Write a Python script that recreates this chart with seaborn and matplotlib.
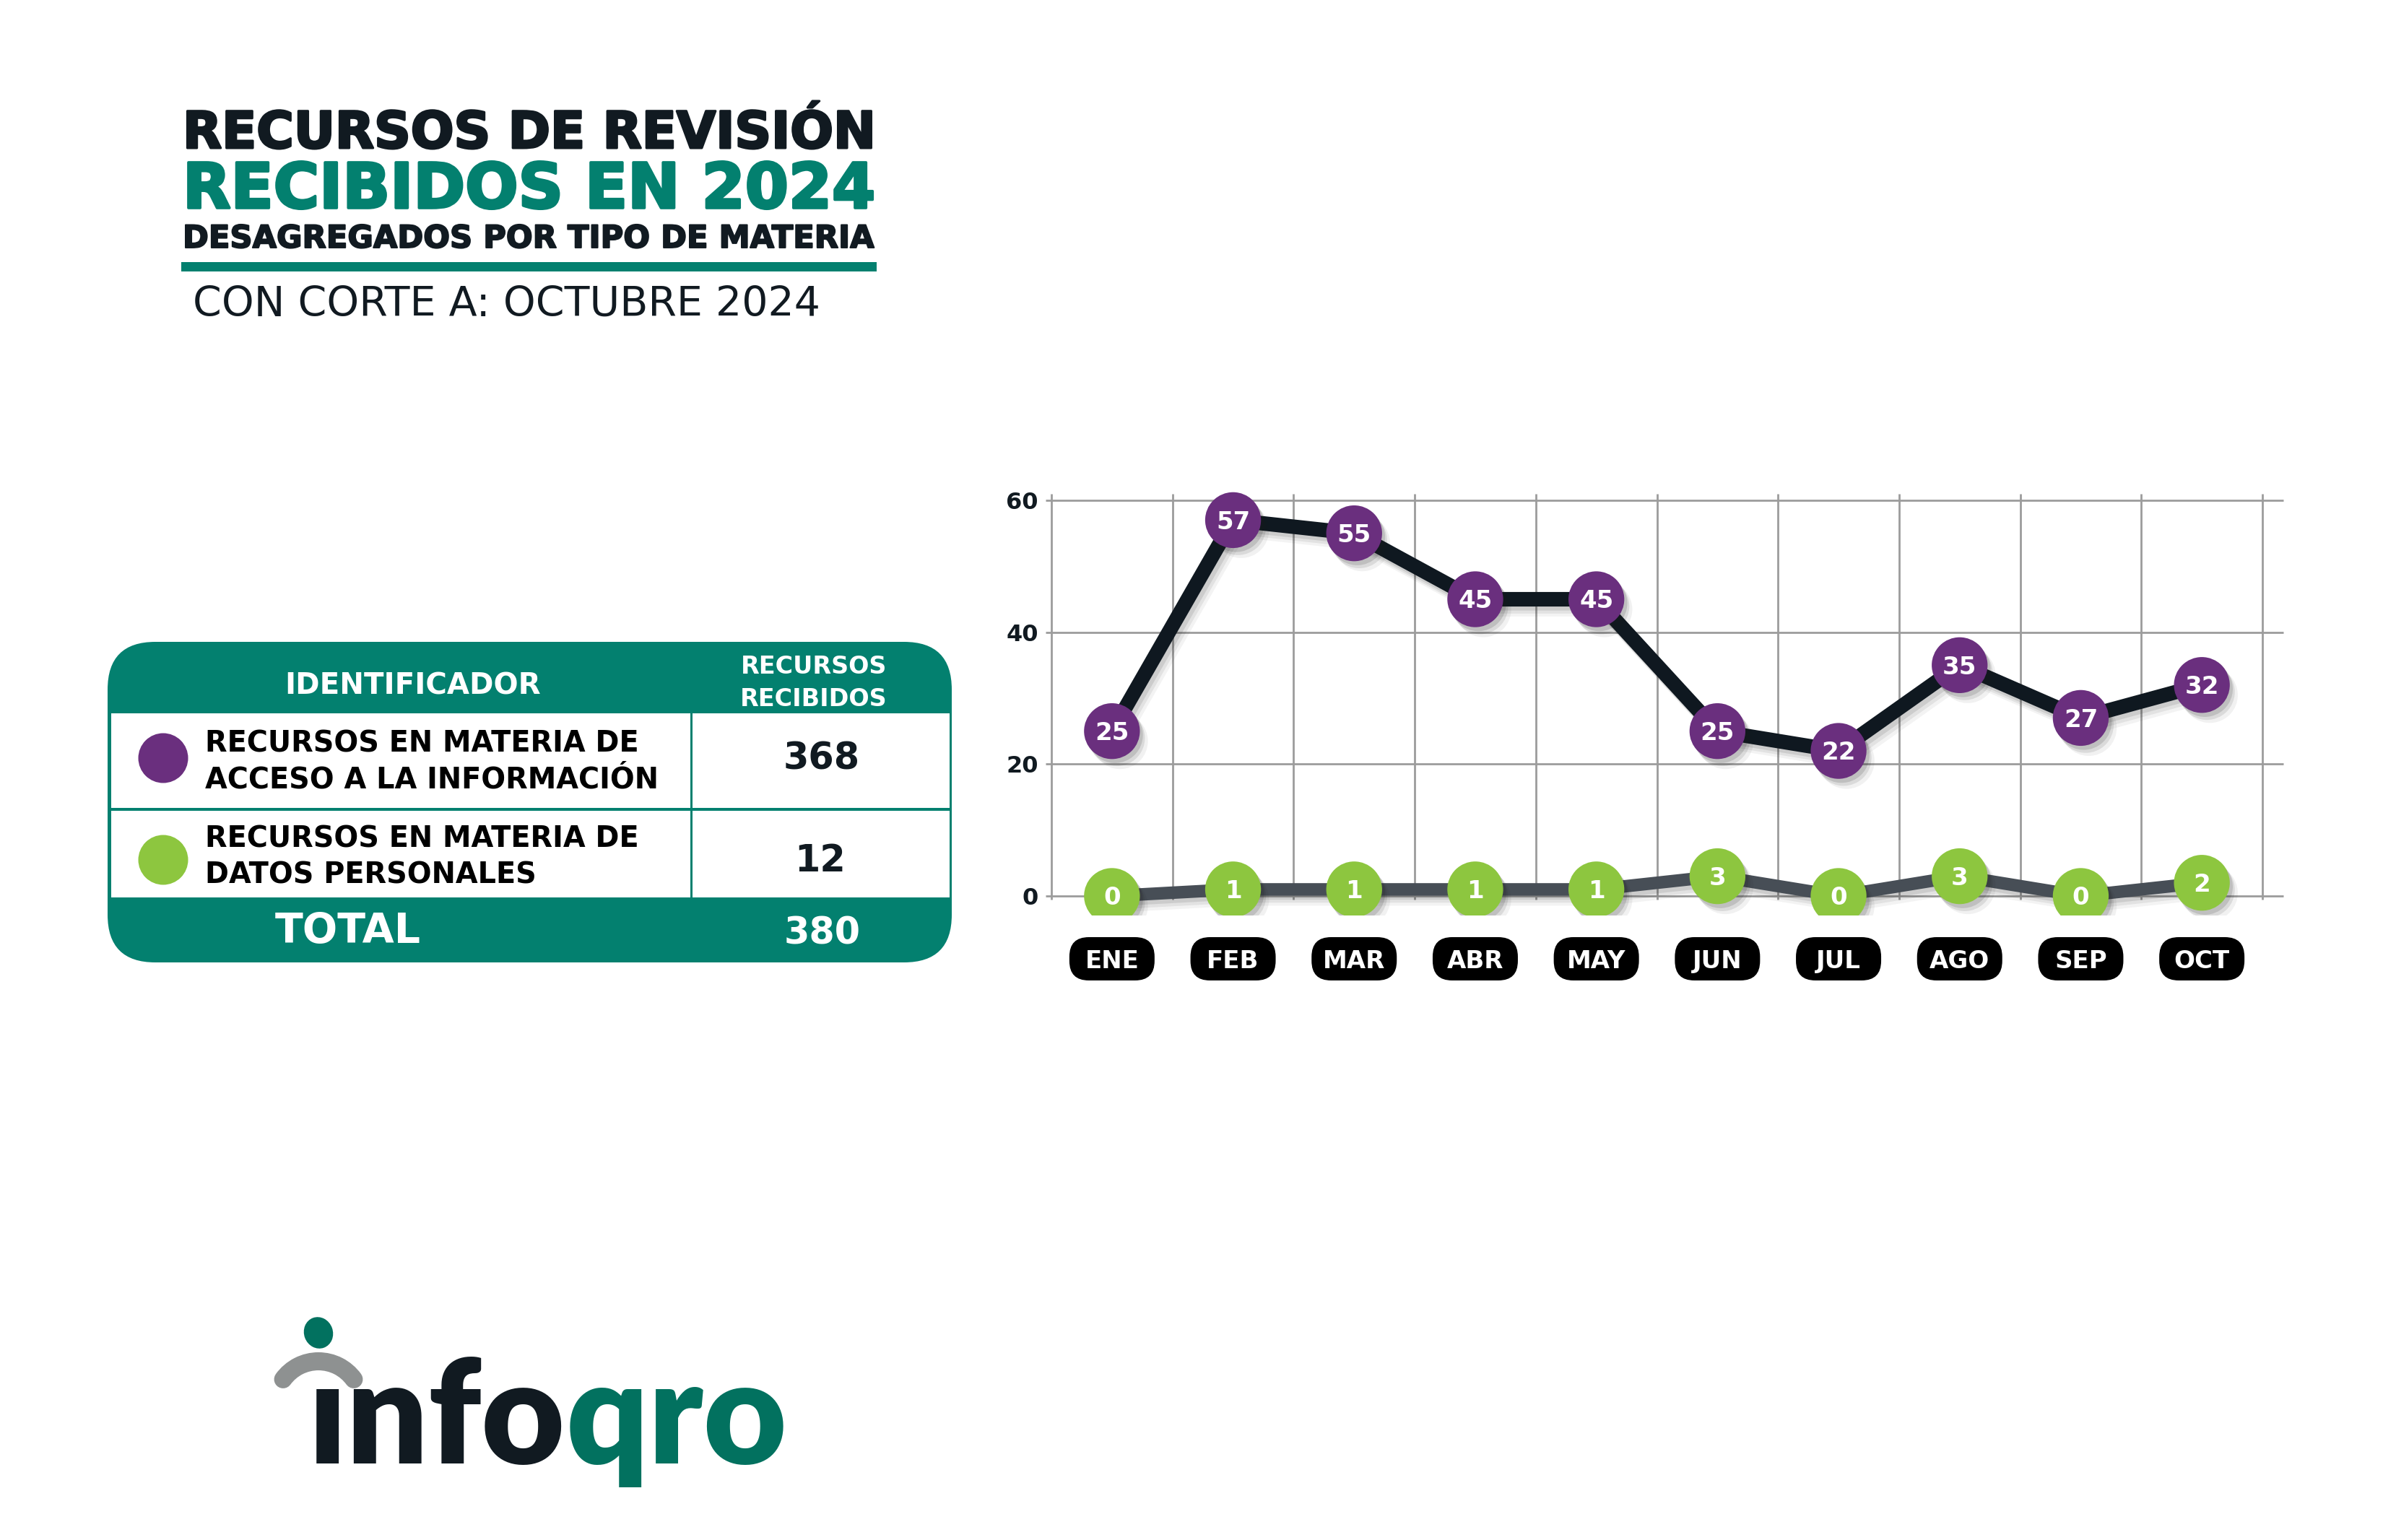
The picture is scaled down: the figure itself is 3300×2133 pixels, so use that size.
import matplotlib
matplotlib.use("Agg")
import numpy as np
import pandas as pd
import matplotlib.pyplot as plt
import matplotlib.patheffects as pe
from matplotlib.patches import FancyBboxPatch, Rectangle, Circle, Ellipse, Arc
import seaborn as sns

# ---------------- data ----------------
meses = ["ENE", "FEB", "MAR", "ABR", "MAY", "JUN", "JUL", "AGO", "SEP", "OCT"]
acceso_informacion = [25, 57, 55, 45, 45, 25, 22, 35, 27, 32]
datos_personales = [0, 1, 1, 1, 1, 3, 0, 3, 0, 2]
y_ticks = [0, 20, 40, 60]

tabla_identificadores = [["RECURSOS EN MATERIA DE", "ACCESO A LA INFORMACIÓN"],
                         ["RECURSOS EN MATERIA DE", "DATOS PERSONALES"]]
tabla_recursos = [368, 12]
tabla_total = 380

titulo = ["RECURSOS DE REVISIÓN", "RECIBIDOS EN 2024", "DESAGREGADOS POR TIPO DE MATERIA"]
subtitulo = "CON CORTE A: OCTUBRE 2024"

# ---------------- style ----------------
sns.set_theme(style="white")
plt.rcParams["font.family"] = ["DejaVu Sans"]

DARK = "#111a21"
TEAL = "#03806f"
PURPLE = "#6a2f7e"
GREEN = "#8dc63f"
LINE_DARK = "#0f1820"
LINE_GRAY = "#474e56"
GRID = "#9c9c9c"
LOGO_TEAL = "#02715f"
LOGO_GRAY = "#8e9191"
LOGO_FONT = ["Lato", "DejaVu Sans"]

W, H = 3300, 2133
fig = plt.figure(figsize=(W / 100, H / 100), dpi=100, facecolor="white")
bg = fig.add_axes([0, 0, 1, 1], zorder=0)
bg.set_xlim(0, W)
bg.set_ylim(H, 0)
bg.axis("off")
renderer = fig.canvas.get_renderer()


def fit(t, width):
    for _ in range(3):
        w = t.get_window_extent(renderer).width
        t.set_fontsize(t.get_fontsize() * width / w)
    return t


def ptext(x, y, s, width=None, size=20, **kw):
    t = bg.text(x, y, s, fontsize=size, va="baseline", **kw)
    if width:
        fit(t, width)
    return t


def heavy(color, lw):
    return [pe.withStroke(linewidth=lw, foreground=color)]


# ---------------- title block ----------------
ptext(253, 205, titulo[0], width=958, color=DARK, fontweight="bold",
      path_effects=heavy(DARK, 2.2))
ptext(253, 288, titulo[1], width=960, color=TEAL, fontweight="bold",
      path_effects=heavy(TEAL, 2.6))
ptext(253, 343, titulo[2], width=957, color=DARK, fontweight="bold",
      path_effects=heavy(DARK, 1.4))
bg.add_patch(Rectangle((251, 363), 963, 13, fc=TEAL, ec="none"))
ptext(267, 438, subtitulo, width=869, color=DARK, fontweight="normal")

# ---------------- table ----------------
tx0, tx1, ty0, ty1 = 149, 1318, 889, 1333
bg.add_patch(FancyBboxPatch((tx0, ty0), tx1 - tx0, ty1 - ty0,
                            boxstyle="round,pad=0,rounding_size=66",
                            fc=TEAL, ec="none"))
rows = [(988, 1119), (1123, 1243)]
for ya, yb in rows:
    bg.add_patch(Rectangle((154, ya), 1315 - 154, yb - ya, fc="white", ec="none"))
bg.add_patch(Rectangle((955.5, 988), 3, 1243 - 988, fc=TEAL, ec="none"))

ptext(572, 962, "IDENTIFICADOR", width=353, color="white", fontweight="bold", ha="center")
t = ptext(1127, 933, "RECURSOS", width=203, color="white", fontweight="bold", ha="center")
ptext(1127, 978, "RECIBIDOS", size=t.get_fontsize(), color="white", fontweight="bold", ha="center")

row_base = [(1041, 1091), (1174, 1224)]
dot_y = [1050, 1191]
dot_c = [PURPLE, GREEN]
for k in range(2):
    t = ptext(284, row_base[k][0], tabla_identificadores[k][0], width=600,
              color="black", fontweight="bold")
    ptext(284, row_base[k][1], tabla_identificadores[k][1], size=t.get_fontsize(),
          color="black", fontweight="bold")
    bg.add_patch(Circle((226, dot_y[k]), 34.5, fc=dot_c[k], ec="none"))

tn = ptext(1138, 1065, str(tabla_recursos[0]), width=106, color=DARK, fontweight="bold", ha="center")
ptext(1136, 1207, str(tabla_recursos[1]), size=tn.get_fontsize(), color=DARK, fontweight="bold", ha="center")
ptext(1139, 1307, str(tabla_total), size=tn.get_fontsize(), color="white", fontweight="bold", ha="center")
ptext(381, 1306, "TOTAL", width=202, color="white", fontweight="bold")

# ---------------- chart ----------------
x_left_px, x_right_px = 1456, 3133     # pixel of x=-0.5 and x=9.5
y0_px, y60_px = 1241, 693              # pixel of y=0 and y=60
xlim = (-0.6, 9.75)
ylim = (-3.0, 63.0)
sx = (x_right_px - x_left_px) / 10.0
sy = (y0_px - y60_px) / 60.0
L = x_left_px + (xlim[0] + 0.5) * sx
R = x_left_px + (xlim[1] + 0.5) * sx
T = y0_px - ylim[1] * sy
B = y0_px - ylim[0] * sy
ax = fig.add_axes([L / W, 1 - B / H, (R - L) / W, (B - T) / H], zorder=2)
ax.patch.set_alpha(0)

df = pd.DataFrame({
    "mes": meses * 2,
    "recursos": acceso_informacion + datos_personales,
    "materia": ["Acceso"] * len(meses) + ["Datos"] * len(meses),
})

sns.lineplot(data=df, x="mes", y="recursos", hue="materia",
             palette={"Acceso": LINE_DARK, "Datos": LINE_GRAY},
             sort=False, legend=False, ax=ax, zorder=3)
line_shadow = [pe.SimpleLineShadow(offset=(3, -4), shadow_color="k", alpha=0.10),
               pe.SimpleLineShadow(offset=(5, -7), shadow_color="k", alpha=0.08),
               pe.SimpleLineShadow(offset=(7, -10), shadow_color="k", alpha=0.05),
               pe.Normal()]
for ln, lw in zip(ax.lines, [14.5, 12.5]):
    ln.set_linewidth(lw)
    ln.set_solid_capstyle("round")
    ln.set_solid_joinstyle("round")
    ln.set_path_effects(line_shadow)

sns.scatterplot(data=df, x="mes", y="recursos", hue="materia",
                palette={"Acceso": PURPLE, "Datos": GREEN},
                s=3100, linewidth=0, legend=False, ax=ax, zorder=4)
ax.collections[-1].set_path_effects([
    pe.SimplePatchShadow(offset=(3, -4), shadow_rgbFace="k", alpha=0.14),
    pe.SimplePatchShadow(offset=(5, -7), shadow_rgbFace="k", alpha=0.10),
    pe.SimplePatchShadow(offset=(8, -10), shadow_rgbFace="k", alpha=0.06),
    pe.Normal()])

fs_lab = 24.5
for serie in (acceso_informacion, datos_personales):
    for i, v in enumerate(serie):
        ax.annotate(str(v), (i, v), xytext=(0, -0.365 * fs_lab), textcoords="offset points",
                    ha="center", va="baseline", color="white", fontsize=fs_lab,
                    fontweight="bold", zorder=6)

ax.hlines(y_ticks, -0.55, 9.67, color=GRID, lw=2.0, zorder=1)
ax.vlines(np.arange(len(meses) + 1) - 0.5, -0.5, 61.0, color=GRID, lw=2.0, zorder=1)

ax.set_xlim(*xlim)
ax.set_ylim(*ylim)
ax.set_xticks([])
ax.set_yticks(y_ticks)
ax.set_yticklabels([str(v) for v in y_ticks], fontsize=23, fontweight="bold", color=DARK)
ax.tick_params(axis="y", length=0, pad=1)
ax.set_xlabel("")
ax.set_ylabel("")
for s in ax.spines.values():
    s.set_visible(False)

# month badges (positions from the chart's own x scale)
for i, m in enumerate(meses):
    xp = ax.transData.transform((i, 0))[0]
    bg.add_patch(FancyBboxPatch((xp - 59, 1298), 118, 60,
                                boxstyle="round,pad=0,rounding_size=27",
                                fc="black", ec="none"))
    bg.text(xp, 1341, m, ha="center", va="baseline", color="white",
            fontsize=24.5, fontweight="bold")

# ---------------- logo ----------------
tmp = ptext(427, 2027, "ınfoqro", width=663, fontweight="heavy", family=LOGO_FONT)
fs_logo = tmp.get_fontsize()
tmp.remove()
t1 = ptext(427, 2027, "ınfo", size=fs_logo, color=DARK, fontweight="heavy", family=LOGO_FONT)
x_end = t1.get_window_extent(renderer).x1
ptext(x_end, 2027, "qro", size=fs_logo, color=LOGO_TEAL, fontweight="heavy", family=LOGO_FONT)
bg.add_patch(Arc((441, 1946), 121, 121, theta1=216, theta2=324, lw=18,
                 color=LOGO_GRAY, capstyle="round"))
bg.add_patch(Ellipse((441, 1846), 40, 44, angle=-20, fc=LOGO_TEAL, ec="none"))

fig.savefig("out.png", dpi=100, facecolor="white")
